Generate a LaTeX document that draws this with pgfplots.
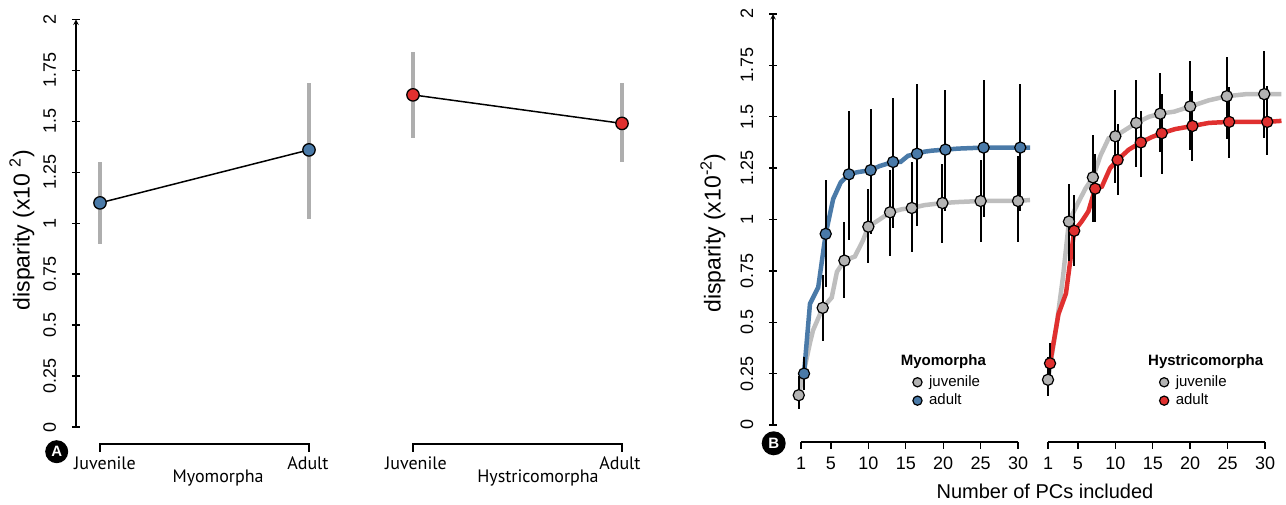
\documentclass[border=0pt]{standalone}
\usepackage{fontspec}
\setmainfont{Liberation Sans}
\newfontfamily\myr{PT Sans}
\usepackage{pgfplots}
\pgfplotsset{compat=1.18}
\usepackage{pgfplotstable}

\definecolor{myblue}{HTML}{4A7AA8}
\definecolor{myred}{HTML}{E0302F}
\definecolor{lgray}{HTML}{BEBEBE}
\definecolor{mgray}{HTML}{B3B3B3}
\definecolor{bargray}{HTML}{AEAEAE}

\newcommand\tickfont{\fontsize{18}{20}\selectfont}
\newcommand\labfont{\fontsize{20}{22}\selectfont}
\newcommand\ylabfont{\fontsize{23}{25}\selectfont}
\newcommand\catfont{\myr\fontsize{18}{20}\selectfont}

% ---- panel A ----
\pgfplotstableread{
x y hi lo
0 1.10 1.30 0.90
1 1.36 1.69 1.02
}\myoA
\pgfplotstableread{
x y hi lo
0 1.63 1.84 1.42
1 1.49 1.69 1.30
}\hysA

% ---- panel B : points ----
\pgfplotstableread{
x y hi lo
0.7 0.145 0.24 0.08
3.9 0.57 0.73 0.41
6.8 0.80 0.99 0.62
10.0 0.965 1.15 0.79
12.9 1.035 1.24 0.82
15.8 1.056 1.28 0.84
19.9 1.08 1.27 0.885
25.0 1.09 1.29 0.89
30.0 1.09 1.31 0.89
}\myoJuvPts
\pgfplotstableread{
x y hi lo
1.4 0.25 0.33 0.17
4.3 0.93 1.19 0.67
7.4 1.22 1.53 0.90
10.3 1.24 1.54 0.93
13.3 1.28 1.59 0.96
16.5 1.32 1.66 0.97
20.3 1.34 1.63 1.04
25.4 1.35 1.68 1.01
30.3 1.35 1.66 1.04
}\myoAduPts
\pgfplotstableread{
x y hi lo
1.0 0.22 0.33 0.14
3.8 0.99 1.175 0.80
7.0 1.205 1.41 0.99
10.0 1.405 1.63 1.18
12.8 1.47 1.68 1.255
16.0 1.515 1.715 1.33
20.0 1.55 1.77 1.34
24.9 1.60 1.79 1.39
29.9 1.61 1.82 1.395
}\hysJuvPts
\pgfplotstableread{
x y hi lo
1.27 0.30 0.40 0.22
4.5 0.945 1.12 0.775
7.3 1.15 1.32 0.99
10.3 1.29 1.465 1.12
13.4 1.375 1.53 1.205
16.2 1.42 1.61 1.22
20.3 1.455 1.625 1.285
25.2 1.475 1.645 1.30
30.3 1.475 1.65 1.315
}\hysAduPts

% ---- panel B : curves ----
\pgfplotstableread{
x y
0.7 0.145
2.2 0.40
2.6 0.46
3.9 0.57
5.1 0.62
5.8 0.745
6.8 0.80
8.2 0.82
9.3 0.90
10.0 0.965
11.5 1.00
12.9 1.035
14.5 1.05
15.8 1.056
17.5 1.07
19.9 1.08
22.0 1.085
25.0 1.09
30.0 1.09
31.6 1.095
}\myoJuvLine
\pgfplotstableread{
x y
1.4 0.25
2.2 0.59
3.3 0.67
4.3 0.93
5.3 1.10
6.3 1.18
7.4 1.22
8.5 1.23
10.3 1.24
11.5 1.26
13.3 1.28
14.3 1.28
15.3 1.31
16.5 1.32
17.5 1.33
18.5 1.335
20.3 1.34
22.0 1.345
25.4 1.35
31.6 1.35
}\myoAduLine
\pgfplotstableread{
x y
1.0 0.22
2.2 0.50
3.0 0.72
3.8 0.99
5.0 1.08
6.0 1.15
7.0 1.205
8.0 1.31
9.1 1.395
10.0 1.405
11.5 1.44
12.8 1.47
14.5 1.50
16.0 1.515
17.9 1.525
20.0 1.55
22.5 1.58
24.9 1.60
27.5 1.61
29.9 1.61
32.2 1.61
}\hysJuvLine
\pgfplotstableread{
x y
1.27 0.30
2.4 0.54
3.4 0.64
4.5 0.945
5.5 0.99
6.4 1.04
7.3 1.15
8.2 1.16
9.3 1.25
10.3 1.29
11.8 1.34
13.4 1.375
14.8 1.40
16.2 1.42
18.0 1.44
20.3 1.455
22.5 1.47
25.2 1.475
30.3 1.475
32.2 1.48
}\hysAduLine

\pgfplotsset{
  Rbase/.style={scale only axis, clip=false, ymin=0, ymax=2,
    anchor=south west, tick align=outside, major tick length=8pt,
    every tick/.style={black, line width=1.4pt},
    axis line style={-, line width=1.4pt, black},
    ticklabel style={font=\tickfont},
    xtick=\empty},
  Ryaxis/.style={axis x line=none, axis y line=left,
    ytick={0,0.25,0.5,0.75,1,1.25,1.5,1.75,2},
    yticklabels={0,0.25,0.5,0.75,1,1.25,1.5,1.75,2},
    yticklabel style={xshift=-16pt, rotate=90, anchor=base, inner sep=0pt},
    ylabel style={anchor=center, font=\ylabfont}},
  Rnoaxis/.style={axis lines=none, ytick=\empty},
  ebars/.style={error bars/.cd, y dir=both, y explicit, error mark=none,
    error bar style={line width=#1}},
  dotlegend/.style={legend image code/.code={\draw[##1] plot coordinates {(0pt,0pt)};}},
  Rlegend/.style={legend cell align=left,
    legend style={at={(rel axis cs:#1,0.121)}, anchor=north west,
    draw=none, fill=none, inner sep=0pt, outer sep=0pt,
    row sep=4.4pt, column sep=7pt,
    font=\fontsize{15}{17}\selectfont,
    nodes={inner sep=0pt, text height=11pt, text depth=3pt}}},
}

\begin{document}
\begin{tikzpicture}[x=1pt,y=1pt]
\useasboundingbox (0,0) rectangle (1286,505);

%===================== Panel A, Myomorpha
\begin{axis}[Rbase, Ryaxis, at={(76pt,78pt)}, width=254pt, height=407.5pt,
  xmin=-0.1148, xmax=1.1005,
  ylabel={disparity (x10 \textsuperscript{2})},
  ylabel style={at={(axis description cs:-0.2126,0.483)}}]
\addplot[only marks, mark=none, forget plot, ebars=4pt,
  error bar style={draw=bargray}]
  table[x=x, y=y, y error plus expr=\thisrow{hi}-\thisrow{y},
        y error minus expr=\thisrow{y}-\thisrow{lo}] {\myoA};
\addplot[black, line width=1.5pt, mark=*, mark size=6.2pt,
  mark options={fill=myblue, draw=black, line width=1.3pt}]
  table[x=x, y=y] {\myoA};
\draw[line width=1.4pt] ([yshift=-25pt]axis cs:0,0) -- ([yshift=-17pt]axis cs:0,0)
  -- ([yshift=-17pt]axis cs:1,0) -- ([yshift=-25pt]axis cs:1,0);
\node[anchor=base, font=\catfont, inner sep=0pt] at ([yshift=-42.3pt]axis cs:0.024,0) {Juvenile};
\node[anchor=base, font=\catfont, inner sep=0pt] at ([yshift=-42.3pt]axis cs:0.995,0) {Adult};
\node[anchor=base, font=\catfont, inner sep=0pt] at ([yshift=-55.7pt]axis cs:0.565,0) {Myomorpha};
\end{axis}

%===================== Panel A, Hystricomorpha
\begin{axis}[Rbase, Rnoaxis, at={(390pt,78pt)}, width=255pt, height=407.5pt,
  xmin=-0.110, xmax=1.110]
\addplot[only marks, mark=none, forget plot, ebars=4pt,
  error bar style={draw=bargray}]
  table[x=x, y=y, y error plus expr=\thisrow{hi}-\thisrow{y},
        y error minus expr=\thisrow{y}-\thisrow{lo}] {\hysA};
\addplot[black, line width=1.5pt, mark=*, mark size=6.2pt,
  mark options={fill=myred, draw=black, line width=1.3pt}]
  table[x=x, y=y] {\hysA};
\draw[line width=1.4pt] ([yshift=-25pt]axis cs:0,0) -- ([yshift=-17pt]axis cs:0,0)
  -- ([yshift=-17pt]axis cs:1,0) -- ([yshift=-25pt]axis cs:1,0);
\node[anchor=base, font=\catfont, inner sep=0pt] at ([yshift=-42.3pt]axis cs:0.014,0) {Juvenile};
\node[anchor=base, font=\catfont, inner sep=0pt] at ([yshift=-42.3pt]axis cs:0.99,0) {Adult};
\node[anchor=base, font=\catfont, inner sep=0pt] at ([yshift=-55.7pt]axis cs:0.598,0) {Hystricomorpha};
\end{axis}

%===================== Panel B, Myomorpha
\begin{axis}[Rbase, Ryaxis, at={(773pt,80pt)}, width=260pt, height=411pt,
  xmin=-2.742, xmax=32.0,
  ylabel={disparity (x10\textsuperscript{-2})},
  ylabel style={at={(axis description cs:-0.2308,0.467)}},
  Rlegend=0.538]
\addplot[lgray, line width=4.5pt, forget plot] table[x=x,y=y] {\myoJuvLine};
\addplot[myblue, line width=4.5pt, forget plot] table[x=x,y=y] {\myoAduLine};
\addplot[only marks, mark=*, mark size=5.6pt, forget plot,
  mark options={fill=mgray, draw=black, line width=1.2pt}, ebars=2pt,
  error bar style={draw=black}]
  table[x=x, y=y, y error plus expr=\thisrow{hi}-\thisrow{y},
        y error minus expr=\thisrow{y}-\thisrow{lo}] {\myoJuvPts};
\addplot[only marks, mark=*, mark size=5.6pt, forget plot,
  mark options={fill=myblue, draw=black, line width=1.2pt}, ebars=2pt,
  error bar style={draw=black}]
  table[x=x, y=y, y error plus expr=\thisrow{hi}-\thisrow{y},
        y error minus expr=\thisrow{y}-\thisrow{lo}] {\myoAduPts};
\addlegendimage{only marks, mark=*, mark size=4.6pt,
  mark options={fill=mgray, draw=black, line width=1.2pt}, dotlegend}
\addlegendentry{juvenile}
\addlegendimage{only marks, mark=*, mark size=4.6pt,
  mark options={fill=myblue, draw=black, line width=1.2pt}, dotlegend}
\addlegendentry{adult}
\draw[line width=1.4pt] ([yshift=-17pt]axis cs:1,0) -- ([yshift=-17pt]axis cs:30,0);
\pgfplotsinvokeforeach{1,5,10,15,20,25,30}{
  \draw[line width=1.4pt] ([yshift=-17pt]axis cs:#1,0) -- ([yshift=-24.5pt]axis cs:#1,0);
  \node[anchor=base, font=\tickfont, inner sep=0pt] at ([yshift=-44.3pt]axis cs:#1,0) {#1};
}
\end{axis}

%===================== Panel B, Hystricomorpha
\begin{axis}[Rbase, Rnoaxis, at={(1040pt,80pt)}, width=246pt, height=411pt,
  xmin=-0.069, xmax=32.806,
  Rlegend=0.486]
\addplot[lgray, line width=4.5pt, forget plot] table[x=x,y=y] {\hysJuvLine};
\addplot[myred, line width=4.5pt, forget plot] table[x=x,y=y] {\hysAduLine};
\addplot[only marks, mark=*, mark size=5.6pt, forget plot,
  mark options={fill=mgray, draw=black, line width=1.2pt}, ebars=2pt,
  error bar style={draw=black}]
  table[x=x, y=y, y error plus expr=\thisrow{hi}-\thisrow{y},
        y error minus expr=\thisrow{y}-\thisrow{lo}] {\hysJuvPts};
\addplot[only marks, mark=*, mark size=5.6pt, forget plot,
  mark options={fill=myred, draw=black, line width=1.2pt}, ebars=2pt,
  error bar style={draw=black}]
  table[x=x, y=y, y error plus expr=\thisrow{hi}-\thisrow{y},
        y error minus expr=\thisrow{y}-\thisrow{lo}] {\hysAduPts};
\addlegendimage{only marks, mark=*, mark size=4.6pt,
  mark options={fill=mgray, draw=black, line width=1.2pt}, dotlegend}
\addlegendentry{juvenile}
\addlegendimage{only marks, mark=*, mark size=4.6pt,
  mark options={fill=myred, draw=black, line width=1.2pt}, dotlegend}
\addlegendentry{adult}
\draw[line width=1.4pt] ([yshift=-17pt]axis cs:1,0) -- ([yshift=-17pt]axis cs:30,0);
\pgfplotsinvokeforeach{1,5,10,15,20,25,30}{
  \draw[line width=1.4pt] ([yshift=-17pt]axis cs:#1,0) -- ([yshift=-24.5pt]axis cs:#1,0);
  \node[anchor=base, font=\tickfont, inner sep=0pt] at ([yshift=-44.3pt]axis cs:#1,0) {#1};
}
\end{axis}

% legend titles, panel letters, shared x label
\node[anchor=base west, font=\bfseries\fontsize{15}{17}\selectfont, inner sep=0pt] at (900.7,139) {Myomorpha};
\node[anchor=base west, font=\bfseries\fontsize{15}{17}\selectfont, inner sep=0pt] at (1148,139) {Hystricomorpha};
\node[circle, fill=black, inner sep=0pt, minimum size=23pt, text=white,
  font=\bfseries\fontsize{15}{15}\selectfont] at (56.7,53.3) {A};
\node[circle, fill=black, inner sep=0pt, minimum size=24pt, text=white,
  font=\bfseries\fontsize{15}{15}\selectfont] at (773.7,61.7) {B};
\node[anchor=base, font=\labfont, inner sep=0pt] at (1045,6.7) {Number of PCs included};
\end{tikzpicture}
\end{document}
